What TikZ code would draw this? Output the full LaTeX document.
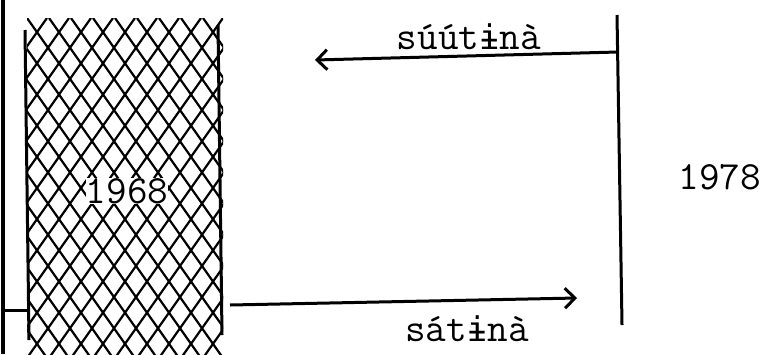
\documentclass[tikz,border=0pt]{standalone}
\usepackage{fontspec}
\newfontfamily\ipafont{DejaVu Sans Mono}
\usetikzlibrary{arrows.meta}
\newcommand{\bari}{{\ipafont\fontsize{17}{20}\selectfont ɨ}}

\begin{document}
\begin{tikzpicture}[x=0.5pt, y=-0.5pt, line width=1.5pt, >={Straight Barb[length=5pt,width=10pt]},
  every node/.style={font=\fontsize{20}{22}\ttfamily, inner sep=1pt}]
  \useasboundingbox (0,0) rectangle (763,354);
  % left edge and its tick
  \coordinate (ltop) at (3,0);
  \coordinate (lbot) at (3,354);
  \coordinate (ltick) at (3,310);
  \coordinate (btl) at (27,310);
  \draw[line width=2.2pt] (ltop) -- (lbot);
  \draw (ltick) -- (btl);
  % hatched block
  \begin{scope}
    \clip (27,18) rectangle (223,354);
    \foreach \i in {-14,...,14} {
      \draw[line width=1.1pt] (27+22*\i,18) -- ++(240,340);
      \draw[line width=1.1pt] (223-22*\i,18) -- ++(-240,340);
    }
  \end{scope}
  \coordinate (bl1) at (25,30);
  \coordinate (bl2) at (29,340);
  \coordinate (br1) at (218,25);
  \coordinate (br2) at (222,335);
  \draw (bl1) -- (bl2);
  \draw (br1) -- (br2);
  \node[fill=white, inner sep=0pt] (y68) at (127,191) {1968};
  % right line
  \coordinate (rtop) at (617,15);
  \coordinate (rbot) at (622,325);
  \draw (rtop) -- (rbot);
  \node (y78) at (720,177) {1978};
  % arrows
  \coordinate (afrom) at (618,52);
  \coordinate (ato) at (315,60);
  \draw[->] (afrom) -- (ato);
  \node (up) at (469,37) {súút\bari nà};
  \coordinate (bfrom) at (230,305);
  \coordinate (bto) at (577,298);
  \draw[->] (bfrom) -- (bto);
  \node (down) at (467,329) {sát\bari nà};
\end{tikzpicture}
\end{document}
